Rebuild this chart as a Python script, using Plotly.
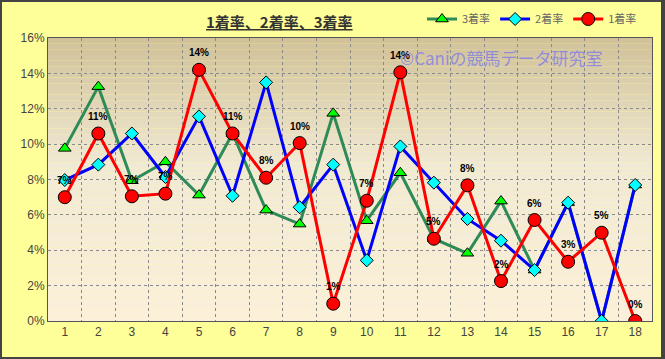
import plotly.graph_objects as go

categories = [str(i) for i in range(1, 19)]
win_rate = [7.0, 10.6, 7.05, 7.2, 14.2, 10.6, 8.1, 10.06, 0.98, 6.8, 14.06, 4.65, 7.67, 2.26, 5.71, 3.35, 4.99, 0.0]
second_rate = [7.97, 8.84, 10.6, 8.14, 11.57, 7.08, 13.49, 6.43, 8.84, 3.43, 9.87, 7.82, 5.77, 4.54, 2.88, 6.69, 0.0, 7.69]
third_rate = [9.76, 13.25, 7.93, 9.0, 7.12, 10.6, 6.27, 5.48, 11.74, 5.67, 8.38, 4.65, 3.83, 6.78, 2.88, 6.69, 0.0, 7.69]
y_ticks = [0, 2, 4, 6, 8, 10, 12, 14, 16]

# plot-area pixel geometry
W, H = 665, 359
L, R, T, B = 48, 652, 38, 321
pw, ph = R - L, B - T

def px(x):
    return (x - L) / pw

def py(y):
    return (B - y) / ph

fig = go.Figure()

fig.add_trace(go.Scatter(
    x=categories, y=third_rate, name="3着率", mode="lines+markers",
    line=dict(color="#2E8B57", width=3),
    marker=dict(symbol="triangle-up", size=11, color="#00FF00", line=dict(color="#000000", width=1)),
))
fig.add_trace(go.Scatter(
    x=categories, y=second_rate, name="2着率", mode="lines+markers",
    line=dict(color="#0000FF", width=3),
    marker=dict(symbol="diamond", size=10, color="#00FFFF", line=dict(color="#000000", width=1)),
))
fig.add_trace(go.Scatter(
    x=categories, y=win_rate, name="1着率", mode="lines+markers",
    line=dict(color="#FF0000", width=3),
    marker=dict(symbol="circle", size=13, color="#FF0000", line=dict(color="#000000", width=1)),
))

annotations = []
for i, v in enumerate(win_rate):
    annotations.append(dict(
        x=i, y=v, xref="x", yref="y", text=f"{round(v)}%", showarrow=False,
        yshift=17, xanchor="center", yanchor="middle",
        font=dict(family="Liberation Sans", size=10, color="#000000", weight="bold"),
    ))

shapes = []
# outer yellow panel (paper bg is the dark frame)
shapes.append(dict(type="rect", xref="paper", yref="paper",
                   x0=px(2), x1=px(661), y0=py(357), y1=py(2),
                   fillcolor="#FFFF99", line=dict(width=0), layer="below"))
# gradient plot background
stops = [(0.0, (208, 193, 152)), (0.45, (240, 233, 212)), (1.0, (252, 240, 218))]
def col(t):
    for i in range(len(stops) - 1):
        t0, c0 = stops[i]
        t1, c1 = stops[i + 1]
        if t <= t1:
            f = (t - t0) / (t1 - t0)
            return tuple(int(round(c0[k] + (c1[k] - c0[k]) * f)) for k in range(3))
    return stops[-1][1]
n = 50
for i in range(n):
    t = (i + 0.5) / n
    c = col(t)
    shapes.append(dict(type="rect", xref="paper", yref="paper",
                       x0=0, x1=1, y0=1 - (i + 1) / n, y1=1 - i / n,
                       fillcolor=f"rgb{c}", line=dict(width=0), layer="below"))

annotations += [
    dict(text="<u><b>1着率、2着率、3着率</b></u>", xref="paper", yref="paper",
         x=px(279), y=py(21), xanchor="center", yanchor="middle", showarrow=False,
         font=dict(family="Noto Sans CJK JP", size=15, color="#333333")),
    dict(text="©Caniの競馬データ研究室", xref="paper", yref="paper",
         x=px(501), y=py(57), xanchor="center", yanchor="middle", showarrow=False,
         font=dict(family="Noto Sans CJK JP", size=17, color="rgba(115,115,245,0.7)")),
]

fig.update_layout(
    width=W, height=H,
    margin=dict(l=L, r=W - R, t=T, b=H - B, autoexpand=False),
    paper_bgcolor="#444444",
    plot_bgcolor="rgba(0,0,0,0)",
    shapes=shapes,
    showlegend=True,
    legend=dict(orientation="h", x=px(422), y=py(19), xanchor="left", yanchor="middle",
                font=dict(family="Noto Sans CJK JP", size=11, color="#666666"),
                bgcolor="rgba(0,0,0,0)", itemwidth=30, tracegroupgap=0),
    font=dict(family="Liberation Sans", color="#444444"),
    annotations=annotations,
)

fig.update_xaxes(
    type="category", range=[-0.5, 17.5], tickson="boundaries",
    showgrid=True, gridcolor="#8a8a8a", griddash="dot", gridwidth=1,
    showline=True, linecolor="#555555", linewidth=1, mirror=True,
    ticks="", tickfont=dict(size=12, color="#444444"), zeroline=False,
)
fig.update_yaxes(
    range=[0, 16], tickvals=y_ticks, ticktext=[f"{v}%" for v in y_ticks],
    showgrid=True, gridcolor="#8a8a8a", griddash="dot", gridwidth=1,
    showline=True, linecolor="#555555", linewidth=1, mirror=True,
    ticks="", tickfont=dict(size=12, color="#444444"), zeroline=False,
)

fig.write_html("out.html")
